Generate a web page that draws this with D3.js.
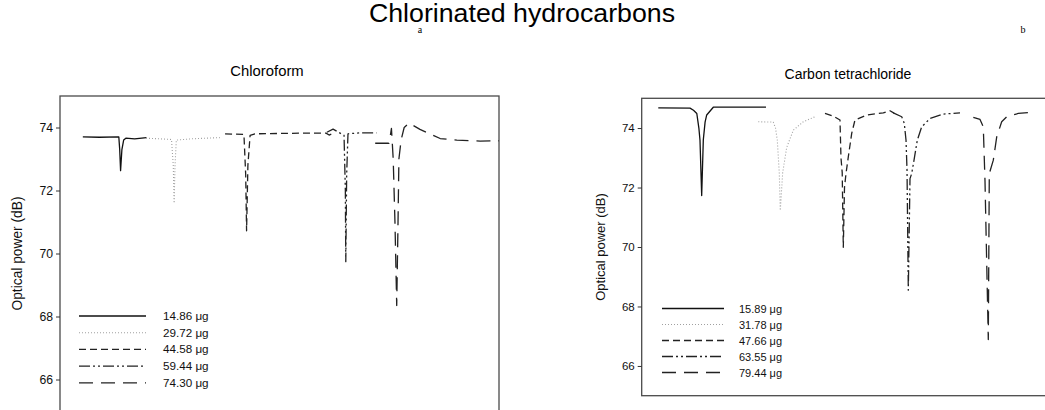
<!DOCTYPE html>
<html>
<head>
<meta charset="utf-8">
<script src="https://cdn.jsdelivr.net/npm/d3@7"></script>
<style>
  html, body { margin: 0; padding: 0; background: #ffffff; }
  svg { display: block; font-family: Arial, "Liberation Sans", sans-serif; }
</style>
</head>
<body>
<svg id="chart" width="1045" height="410"></svg>
<script>
// ---------------- DATA ----------------
const mainTitle = "Chlorinated hydrocarbons";
const panelTitles = ["Chloroform", "Carbon tetrachloride"];
const panelLetters = ["a", "b"];
const yAxisLabel = "Optical power (dB)";
const yTicks = [66, 68, 70, 72, 74];
const yDomain = [65, 75];
const xDomain = [0, 100]; // time, arbitrary units

const chloroformLabels = ["14.86 \u03bcg", "29.72 \u03bcg", "44.58 \u03bcg", "59.44 \u03bcg", "74.30 \u03bcg"];
const ccl4Labels = ["15.89 \u03bcg", "31.78 \u03bcg", "47.66 \u03bcg", "63.55 \u03bcg", "79.44 \u03bcg"];

// Chloroform traces [time, optical power dB]
const chloroform1 = [[5.2,73.70],[9,73.69],[13.4,73.70],[13.6,73.3],[13.8,72.63],[14.1,73.3],[14.5,73.6],[15.0,73.66],[17.0,73.64],[19.7,73.68]];
const chloroform2 = [[19.6,73.66],[22.8,73.64],[25.4,73.62],[25.8,72.8],[26.0,71.6],[26.2,72.8],[26.5,73.6],[30.0,73.64],[36.4,73.68]];
const chloroform3 = [[37.6,73.80],[41.9,73.78],[42.3,72.5],[42.5,70.72],[42.8,72.8],[43.3,73.75],[44.4,73.80],[54.7,73.82],[60.6,73.82],[61.3,73.76],[62.0,73.80]];
const chloroform4 = [[60.8,73.85],[62.2,73.95],[63.8,73.82],[64.7,73.75],[65.0,72.0],[65.1,69.74],[65.3,72.5],[65.6,73.80],[68.3,73.83],[72.1,73.83]];
const chloroform5 = [[71.8,73.50],[74.9,73.50],[75.2,73.70],[75.5,73.97],[75.9,73.0],[76.3,71.0],[76.7,68.35],[77.0,71.0],[77.2,73.0],[77.7,73.6],[78.4,74.0],[79.5,74.14],[82.0,73.94],[86.6,73.65],[90.4,73.60],[95.7,73.57],[100,73.58]];

// Carbon tetrachloride traces [time, optical power dB]
const ccl4_1 = [[4.0,74.68],[11.66,74.67],[12.5,74.60],[13.3,74.49],[13.8,74.0],[14.07,73.59],[14.48,71.73],[14.87,73.60],[15.3,74.2],[15.69,74.44],[17.28,74.70],[30.0,74.70]];
const ccl4_2 = [[28.14,74.21],[31.76,74.20],[32.3,74.0],[32.73,73.59],[33.21,72.48],[33.45,71.23],[34.03,72.5],[35.0,73.35],[36.6,73.93],[39.0,74.21],[41.83,74.38]];
const ccl4_3 = [[44.24,74.49],[46.25,74.40],[47.86,74.27],[48.1,73.0],[48.4,72.5],[48.66,69.99],[48.95,72.0],[49.31,72.47],[49.87,73.03],[50.69,73.82],[51.48,74.27],[54.31,74.44],[58.32,74.51],[59.93,74.58],[60.9,74.50]];
const ccl4_4 = [[60.73,74.51],[62.76,74.38],[63.38,74.16],[63.8,73.59],[64.04,72.6],[64.35,68.55],[64.76,72.3],[65.17,72.47],[65.73,72.92],[66.52,73.59],[67.58,74.04],[69.59,74.32],[72.8,74.47],[76.83,74.51]];
const ccl4_5 = [[80.04,74.36],[81.66,74.29],[82.45,74.04],[82.86,72.24],[83.66,66.89],[83.9,72.47],[84.87,72.92],[85.69,73.70],[86.89,74.21],[88.1,74.38],[90.9,74.49],[94.13,74.53]];

// ---------------- STYLES ----------------
const seriesStyles = [
  { stroke: "#111", dash: null, width: 1.3 },
  { stroke: "#a0a0a0", dash: "1,2", width: 1.1 },
  { stroke: "#222", dash: "7,4", width: 1.3 },
  { stroke: "#222", dash: "11,3,2,3,2,3", width: 1.3 },
  { stroke: "#222", dash: "14,8", width: 1.3 }
];

const panels = [
  { title: panelTitles[0], letter: panelLetters[0], series: [chloroform1, chloroform2, chloroform3, chloroform4, chloroform5],
    labels: chloroformLabels, x0: 60, x1: 499, y0: 96, y1: 411, fs: 1.06,
    titleX: 267, titleY: 76, axisLabelX: 22, legendX0: 79, legendX1: 146, legendTextX: 163, legendY: 316, legendStep: 16.7 },
  { title: panelTitles[1], letter: panelLetters[1], series: [ccl4_1, ccl4_2, ccl4_3, ccl4_4, ccl4_5],
    labels: ccl4Labels, x0: 641.7, x1: 1056, y0: 98.3, y1: 395.7, fs: 1.0,
    titleX: 848, titleY: 79, axisLabelX: 605, legendX0: 662, legendX1: 724, legendTextX: 739, legendY: 308.5, legendStep: 16 }
];

const svg = d3.select("#chart");

svg.append("text").attr("x", 522).attr("y", 22).attr("text-anchor", "middle")
  .attr("font-size", 25).attr("fill", "#000")
  .attr("transform", "translate(522,0) scale(1.07,1.0) translate(-522,0)")
  .text(mainTitle);

panelLetters.forEach((l, i) => {
  svg.append("text").attr("x", i === 0 ? 420 : 1023).attr("y", 33)
    .attr("text-anchor", "middle").attr("font-family", "'Liberation Serif', 'DejaVu Serif', serif")
    .attr("font-size", 10).attr("fill", "#000").text(l);
});

panels.forEach((p, pi) => {
  const g = svg.append("g");
  const x = d3.scaleLinear().domain(xDomain).range([p.x0, p.x1]);
  const y = d3.scaleLinear().domain(yDomain).range([p.y1, p.y0]);

  g.append("text").attr("x", p.titleX).attr("y", p.titleY).attr("text-anchor", "middle")
    .attr("font-size", 14 * p.fs).attr("fill", "#000").text(p.title);

  const clipId = "clip" + pi;
  svg.append("clipPath").attr("id", clipId).append("rect")
    .attr("x", p.x0).attr("y", p.y0).attr("width", p.x1 - p.x0).attr("height", p.y1 - p.y0);

  // frame
  g.append("rect").attr("x", p.x0).attr("y", p.y0).attr("width", p.x1 - p.x0).attr("height", p.y1 - p.y0)
    .attr("fill", "#fff").attr("stroke", "#4a4a4a").attr("stroke-width", 1.3);

  // y axis
  const axis = d3.axisLeft(y).tickValues(yTicks).tickSize(4).tickPadding(3).tickFormat(d3.format("d"));
  const ag = g.append("g").attr("transform", `translate(${p.x0},0)`).call(axis);
  ag.select(".domain").remove();
  ag.selectAll(".tick line").attr("stroke", "#333");
  ag.selectAll(".tick text").attr("font-size", 11.5 * p.fs).attr("font-family", "Arial, 'Liberation Sans', sans-serif").attr("fill", "#111");

  g.append("text")
    .attr("transform", `translate(${p.axisLabelX},${(y(75) + y(65)) / 2}) rotate(-90)`)
    .attr("text-anchor", "middle").attr("font-size", 13 * p.fs).attr("fill", "#111").text(yAxisLabel);

  // traces
  const line = d3.line().x(d => x(d[0])).y(d => y(d[1]));
  const lg = g.append("g").attr("clip-path", `url(#${clipId})`);
  p.series.forEach((s, si) => {
    const st = seriesStyles[si];
    lg.append("path").datum(s).attr("d", line).attr("fill", "none")
      .attr("stroke", st.stroke).attr("stroke-width", st.width)
      .attr("stroke-dasharray", st.dash).attr("stroke-linejoin", "round");
  });

  // legend
  p.labels.forEach((lab, li) => {
    const st = seriesStyles[li];
    const ly = p.legendY + li * p.legendStep;
    g.append("line").attr("x1", p.legendX0).attr("x2", p.legendX1).attr("y1", ly).attr("y2", ly)
      .attr("stroke", st.stroke).attr("stroke-width", st.width).attr("stroke-dasharray", st.dash);
    g.append("text").attr("x", p.legendTextX).attr("y", ly + 4).attr("font-size", 11 * p.fs)
      .attr("fill", "#111").text(lab);
  });
});
</script>
</body>
</html>
